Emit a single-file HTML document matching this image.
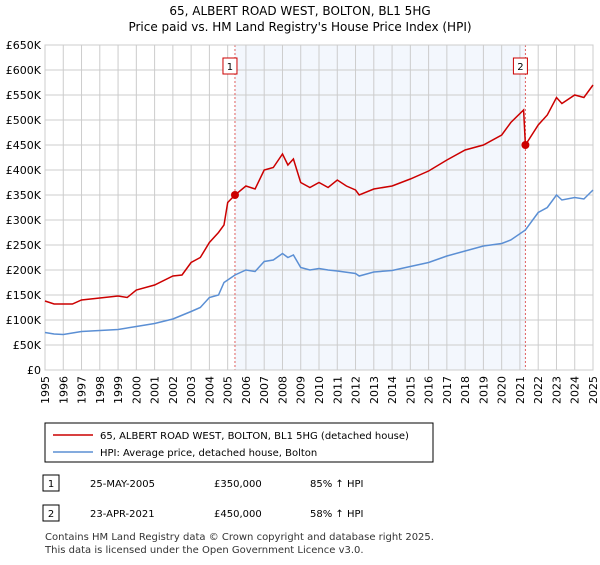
<!DOCTYPE html>
<html><head><meta charset="utf-8"><style>
body{margin:0;background:#fff;font-family:"Liberation Sans","DejaVu Sans",sans-serif;}
svg text{font-family:"DejaVu Sans","Liberation Sans",sans-serif;}
</style></head><body>
<svg width="600" height="560" xmlns="http://www.w3.org/2000/svg">
<text x="300" y="15" font-size="12" text-anchor="middle">65, ALBERT ROAD WEST, BOLTON, BL1 5HG</text>
<text x="300" y="31" font-size="12" text-anchor="middle">Price paid vs. HM Land Registry's House Price Index (HPI)</text>
<g id="plot"></g>
<rect x="45" y="423" width="388" height="39" fill="#fff" stroke="#000"/>
<line x1="53" y1="435" x2="93" y2="435" stroke="#cc0000" stroke-width="1.5"/>
<text x="100" y="439" font-size="10">65, ALBERT ROAD WEST, BOLTON, BL1 5HG (detached house)</text>
<line x1="53" y1="452" x2="93" y2="452" stroke="#5b8fd4" stroke-width="1.5"/>
<text x="100" y="456" font-size="10">HPI: Average price, detached house, Bolton</text>
<g font-size="10">
<rect x="43" y="475" width="16" height="16" fill="#fff" stroke="#000"/>
<text x="51" y="487" text-anchor="middle">1</text>
<text x="90" y="487">25-MAY-2005</text><text x="214" y="487">£350,000</text><text x="310" y="487">85% ↑ HPI</text>
<rect x="43" y="505" width="16" height="16" fill="#fff" stroke="#000"/>
<text x="51" y="517" text-anchor="middle">2</text>
<text x="90" y="517">23-APR-2021</text><text x="214" y="517">£450,000</text><text x="310" y="517">58% ↑ HPI</text>
</g>
<text x="45" y="540" font-size="10" fill="#333">Contains HM Land Registry data © Crown copyright and database right 2025.</text>
<text x="45" y="553" font-size="10" fill="#333">This data is licensed under the Open Government Licence v3.0.</text>
</svg>
<script>
const hpiX=[1995,1995.5,1996,1997,1998,1999,2000,2001,2002,2003,2003.5,2004,2004.5,2004.8,2005.4,2006,2006.5,2007,2007.5,2008,2008.3,2008.6,2009,2009.5,2010,2010.5,2011,2012,2012.2,2013,2014,2015,2016,2017,2018,2019,2020,2020.5,2021.3,2022,2022.5,2023,2023.3,2024,2024.5,2025];
const hpiY=[75,72,71,77,79,81,87,93,102,117,125,145,150,175,190,200,197,217,220,233,225,230,205,200,203,200,198,193,188,196,199,207,215,228,238,248,253,260,280,315,325,350,340,345,342,360];
const priceX=[1995,1995.5,1996.5,1997,1998,1999,1999.5,2000,2001,2002,2002.5,2003,2003.5,2004,2004.5,2004.8,2005,2005.4,2006,2006.5,2007,2007.5,2008,2008.3,2008.6,2009,2009.5,2010,2010.5,2011,2011.5,2012,2012.2,2013,2014,2015,2016,2017,2018,2019,2020,2020.5,2021.2,2021.3,2022,2022.5,2023,2023.3,2024,2024.5,2025];
const priceY=[138,132,132,140,144,148,145,160,170,188,190,215,225,255,275,290,335,350,368,362,400,405,432,410,422,375,365,375,365,380,368,360,350,362,368,382,398,420,440,450,470,495,520,450,490,510,545,533,550,545,570];
const saleX=[2005.4,2021.3];
const saleY=[350,450];
const saleLabels=["1","2"];
const yTicks=[0,50,100,150,200,250,300,350,400,450,500,550,600,650];
const yTickLabels=["£0","£50K","£100K","£150K","£200K","£250K","£300K","£350K","£400K","£450K","£500K","£550K","£600K","£650K"];
const xTicks=[1995,1996,1997,1998,1999,2000,2001,2002,2003,2004,2005,2006,2007,2008,2009,2010,2011,2012,2013,2014,2015,2016,2017,2018,2019,2020,2021,2022,2023,2024,2025];
const L=45,R=593,T=45,B=370;
const sx=v=>L+(v-1995)/30*(R-L);
const sy=v=>B-v/650*(B-T);
const NS="http://www.w3.org/2000/svg";
const g=document.getElementById('plot');
function mk(t,a,p){const e=document.createElementNS(NS,t);for(const k in a)e.setAttribute(k,a[k]);(p||g).appendChild(e);return e;}
const sh=mk('rect',{x:sx(saleX[0]),y:T,width:sx(saleX[1])-sx(saleX[0]),height:B-T,fill:'#eef3fc',opacity:0.7});


yTicks.forEach((v,i)=>{
 const l=mk('line',{x1:L,x2:R,y1:sy(v),y2:sy(v),stroke:'#cccccc'});
 
 
 const t=mk('text',{x:L-4,y:sy(v)+4,'font-size':11,'text-anchor':'end'});t.textContent=yTickLabels[i];
 
 
});
xTicks.forEach(v=>{
 const l=mk('line',{x1:sx(v),x2:sx(v),y1:T,y2:B,stroke:'#cccccc'});
 
 
 const t=mk('text',{x:0,y:0,'font-size':11,'text-anchor':'end',transform:`translate(${sx(v)+4},${B+6}) rotate(-90)`});t.textContent=v;
 
 
});
saleX.forEach((v,i)=>{
 const l=mk('line',{x1:sx(v),x2:sx(v),y1:T,y2:B,stroke:'#e06060','stroke-dasharray':'2,2'});
 
 
 const r=mk('rect',{x:sx(v)-12,y:sy(610)-7,width:14,height:16,fill:'#fff',stroke:'#cc0000'});
 
 
 const t=mk('text',{x:sx(v)-5,y:sy(610)+5,'font-size':10,'text-anchor':'middle'});t.textContent=saleLabels[i];
 
 
});
const fr=mk('rect',{x:L,y:T,width:R-L,height:B-T,fill:'none',stroke:'#cccccc'});


const pts=(X,Y)=>X.map((x,i)=>sx(x).toFixed(1)+','+sy(Y[i]).toFixed(1)).join(' ');
const h=mk('polyline',{points:pts(hpiX,hpiY),fill:'none',stroke:'#5b8fd4','stroke-width':1.5});


const p=mk('polyline',{points:pts(priceX,priceY),fill:'none',stroke:'#cc0000','stroke-width':1.5});


saleX.forEach((v,i)=>{
 const c=mk('circle',{cx:sx(v),cy:sy(saleY[i]),r:4,fill:'#cc0000'});
 
 
});
</script>
</body></html>
